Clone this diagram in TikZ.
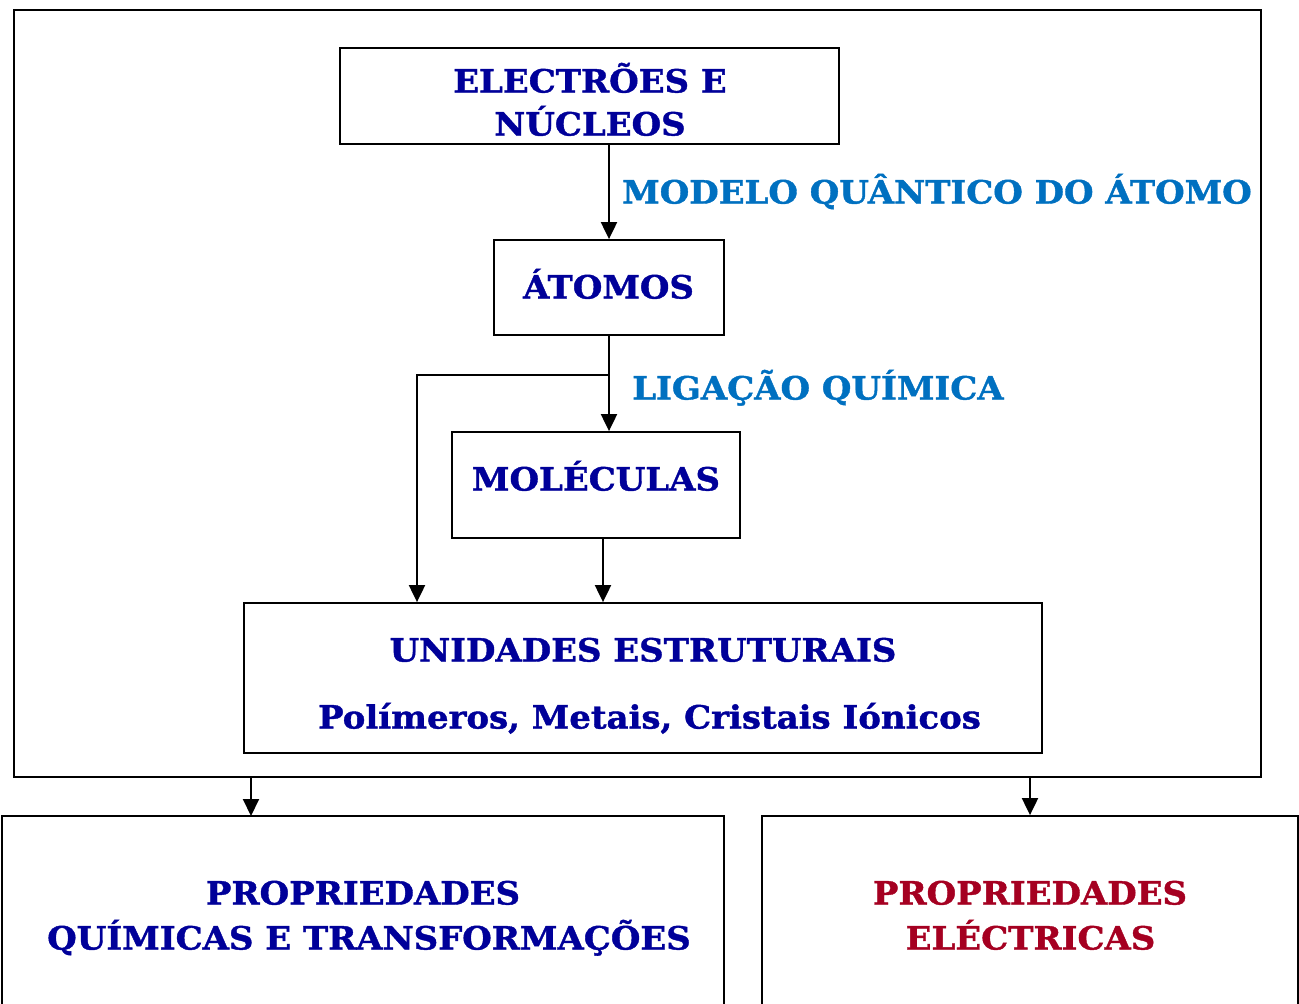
\documentclass[tikz,border=0pt]{standalone}
\usepackage{fontspec}
\setmainfont{DejaVu Serif}[FakeStretch=1.06, BoldFeatures={FakeBold=1.2}]
\usetikzlibrary{arrows.meta,calc}
\definecolor{dblue}{HTML}{000099}
\definecolor{lblue}{HTML}{0070C0}
\definecolor{dred}{HTML}{A50021}
\tikzset{
  box/.style={draw=black, line width=1.8pt, inner sep=0pt},
  txt/.style={font=\bfseries\fontsize{32}{40}\selectfont, text=dblue, anchor=base, inner sep=0pt},
  lbl/.style={font=\bfseries\fontsize{32}{40}\selectfont, text=lblue, anchor=base west, inner sep=0pt},
  conn/.style={line width=2pt, -{Triangle[width=16pt,length=17pt]}}
}
\begin{document}
\begin{tikzpicture}[x=1pt,y=-1pt]
\useasboundingbox (0,0) rectangle (1299,1004);
\clip (0,0) rectangle (1299,1004);
% boxes
\node[box, minimum width=1247pt, minimum height=767pt] (outer) at (637.5,393.5) {};
\node[box, minimum width=499pt, minimum height=96pt] (elec) at (589.5,96) {};
\node[box, minimum width=230pt, minimum height=95pt] (atom) at (609,287.5) {};
\node[box, minimum width=288pt, minimum height=106pt] (mol) at (596,485) {};
\node[box, minimum width=798pt, minimum height=150pt] (unid) at (643,678) {};
\node[box, minimum width=722pt, minimum height=200pt] (quim) at (363,916) {};
\node[box, minimum width=536pt, minimum height=200pt] (elect) at (1030,916) {};
% texts
\node[txt] (elec1) at (590,92.5) {ELECTRÕES E};
\node[txt] (elec2) at (590,135.5) {NÚCLEOS};
\node[txt] (atomt) at (608.5,298.5) {ÁTOMOS};
\node[txt] (molt) at (596,490.5) {MOLÉCULAS};
\node[txt] (unid1) at (643,661.5) {UNIDADES ESTRUTURAIS};
\node[txt] (unid2) at (649.5,728.5) {Polímeros, Metais, Cristais Iónicos};
\node[txt] (quim1) at (363,904.5) {PROPRIEDADES};
\node[txt] (quim2) at (369,949.5) {QUÍMICAS E TRANSFORMAÇÕES};
\node[txt, text=dred] (elect1) at (1030,904.5) {PROPRIEDADES};
\node[txt, text=dred] (elect2) at (1030.5,949.5) {ELÉCTRICAS};
\node[lbl] (modelo) at (622,203.5) {MODELO QUÂNTICO DO ÁTOMO};
\node[lbl] (ligacao) at (632,399.5) {LIGAÇÃO QUÍMICA};
% connectors
\coordinate (br) at (609,375);
\coordinate (bl) at (417,375);
\draw[conn] (elec.south -| atom.north) -- (atom.north);
\draw[conn] (atom.south) -- (atom.south |- mol.north);
\draw[conn] (br) -- (bl) -- (bl |- unid.north);
\draw[conn] ([xshift=7pt]mol.south) -- ([xshift=7pt]mol.south |- unid.north);
\draw[conn] (251,777) -- (251,816);
\draw[conn] (elect.north |- outer.south) -- (elect.north);
\end{tikzpicture}
\end{document}
